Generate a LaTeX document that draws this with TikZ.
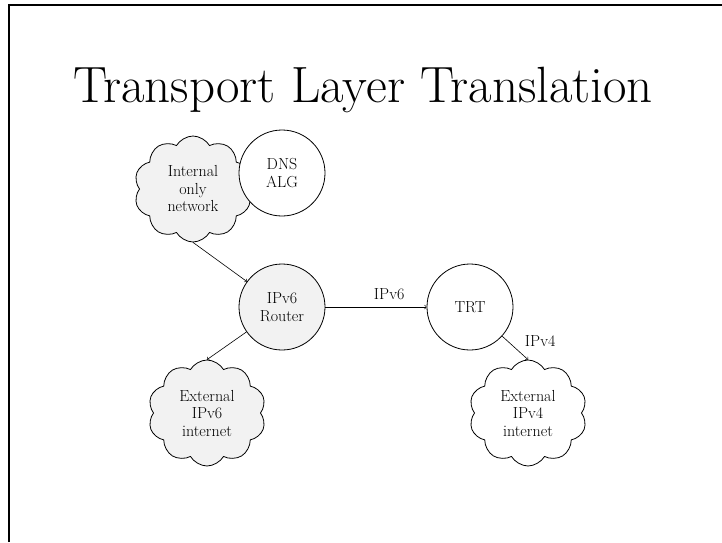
\documentclass[tikz,border=0pt]{standalone}
\usetikzlibrary{shapes.symbols,shapes.geometric}
\definecolor{lightfill}{HTML}{F2F2F2}
\begin{document}
\begin{tikzpicture}[x=1pt,y=-1pt,
  every node/.style={font=\fontsize{16}{17.5}\selectfont, align=center},
  roundnode/.style={circle, draw, line width=0.8pt, minimum size=86pt, inner sep=0pt},
  cloudnode/.style={cloud, draw, line width=0.8pt, cloud puffs=10, cloud puff arc=120, aspect=1.1, minimum width=118pt, minimum height=106pt, inner sep=0pt},
  link/.style={->, line width=0.6pt},
  lbl/.style={font=\fontsize{16}{17.5}\selectfont}]
\useasboundingbox (0,0) rectangle (722,542);
\draw[line width=2pt] (9,542) -- (9,5) -- (722,5);
\node[font=\fontsize{51}{55}\selectfont, anchor=base] (title) at (363,102) {Transport Layer Translation};
\node[cloudnode, fill=lightfill] (internal) at (193,189) {Internal\\only\\network};
\node[roundnode, fill=white] (dns) at (282,173) {DNS\\ALG};
\node[roundnode, fill=lightfill] (router) at (282,307) {IPv6\\Router};
\node[roundnode, fill=white] (trt) at (470,307) {TRT};
\node[cloudnode, fill=lightfill] (ext6) at (207,413) {External\\IPv6\\internet};
\node[cloudnode, fill=white] (ext4) at (528,413) {External\\IPv4\\internet};
\draw[link] (internal.south) -- (router);
\draw[link] (router) -- node[lbl, pos=0.63, above=4pt] {IPv6} (trt);
\draw[link] (router) -- (ext6.north);
\draw[link] (trt) -- node[lbl, pos=0.2, right=14pt] {IPv4} (ext4.north);
\end{tikzpicture}
\end{document}
